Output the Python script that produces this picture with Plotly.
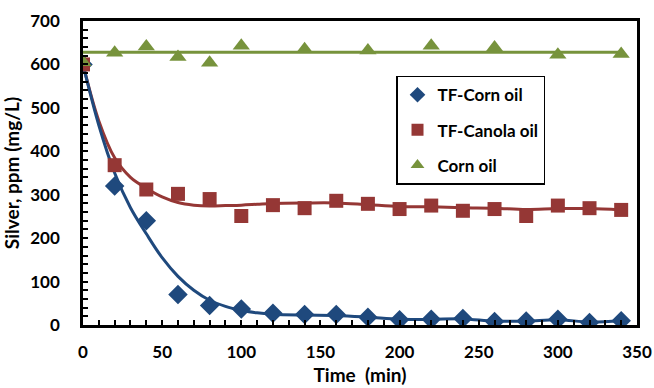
import plotly.graph_objects as go

# Measured data
time = [0, 20, 40, 60, 80, 100, 120, 140, 160, 180, 200, 220, 240, 260, 280, 300, 320, 340]
tf_corn = [600, 320, 240, 70, 45, 37, 27, 24, 24, 18, 12, 13, 15, 8, 9, 13, 6, 10]
tf_canola = [600, 368, 312, 302, 290, 251, 276, 269, 286, 279, 267, 275, 263, 267, 251, 275, 269, 265]

corn_t = [0, 20, 40, 60, 80, 100, 140, 180, 220, 260, 300, 340]
corn_oil = [605, 627, 641, 617, 604, 643, 635, 632, 643, 639, 622, 624]

# Trend curves
curve_t = [0, 10, 20, 30, 40, 50, 60, 70, 80, 90, 100, 110, 120, 140, 160, 180, 200, 220, 240, 260, 280, 300, 320, 340]
curve_corn = [600, 460, 350, 270, 210, 155, 112, 80, 57, 43, 34, 28, 25, 23, 22, 18, 13, 13, 14, 9, 9, 12, 7, 10]
curve_canola = [600, 470, 385, 340, 315, 295, 282, 276, 274, 275, 276, 278, 280, 281, 281, 277, 273, 272, 270, 269, 266, 268, 268, 265]
line_t = [0, 340]
line_corn_oil = [628, 628]

x_ticks = [0, 50, 100, 150, 200, 250, 300, 350]
y_ticks = [0, 100, 200, 300, 400, 500, 600, 700]

BLUE = "#1F497D"
RED = "#953735"
GREEN = "#77933C"

fig = go.Figure()
fig.add_trace(go.Scatter(x=line_t, y=line_corn_oil, mode="lines",
                         line=dict(color=GREEN, width=3), showlegend=False, hoverinfo="skip"))
fig.add_trace(go.Scatter(x=curve_t, y=curve_canola, mode="lines", line_shape="spline",
                         line=dict(color=RED, width=3), showlegend=False, hoverinfo="skip"))
fig.add_trace(go.Scatter(x=curve_t, y=curve_corn, mode="lines", line_shape="spline",
                         line=dict(color=BLUE, width=3), showlegend=False, hoverinfo="skip"))

fig.add_trace(go.Scatter(x=time, y=tf_corn, mode="markers", name="TF-Corn oil",
                         legendgroup="a",
                         marker=dict(symbol="diamond", size=15, color=BLUE)))
fig.add_trace(go.Scatter(x=time, y=tf_canola, mode="markers", name="TF-Canola oil",
                         legendgroup="b",
                         marker=dict(symbol="square", size=14, color=RED)))
fig.add_trace(go.Scatter(x=corn_t, y=corn_oil, mode="markers", name="Corn oil",
                         legendgroup="c",
                         marker=dict(symbol="triangle-up", size=15, color=GREEN)))

FONT = "Lato"
fig.update_layout(
    width=654, height=388,
    margin=dict(l=83, r=17, t=21, b=63),
    plot_bgcolor="white", paper_bgcolor="white",
    font=dict(family=FONT, size=15, color="black"),
    legend=dict(x=0.565, y=0.82, xanchor="left", yanchor="top",
                bgcolor="white", bordercolor="black", borderwidth=1.5,
                font=dict(family=FONT, size=17, color="black", weight="bold"),
                tracegroupgap=10, itemsizing="constant", itemwidth=30),
    xaxis=dict(range=[0, 350], tickvals=x_ticks, ticktext=[str(v) for v in x_ticks],
               automargin=False,
               showgrid=False, zeroline=False, showline=True, linecolor="black", linewidth=2.5,
               mirror=True, ticks="inside", ticklen=5, tickwidth=2, tickcolor="black",
               minor=dict(ticks="inside", dtick=10, ticklen=5, tickwidth=2, tickcolor="black"),
               tickfont=dict(family=FONT, size=17, weight="bold"), ticklabelstandoff=10,
               title=dict(text="Time\u00a0\u00a0(min)", font=dict(family=FONT, size=19, weight="bold"), standoff=8)),
    yaxis=dict(range=[0, 700], tickvals=y_ticks, ticktext=[str(v) for v in y_ticks],
               automargin=False,
               showgrid=False, zeroline=False, showline=True, linecolor="black", linewidth=2.5,
               mirror=True, ticks="inside", ticklen=5, tickwidth=2, tickcolor="black",
               minor=dict(ticks="inside", dtick=20, ticklen=5, tickwidth=2, tickcolor="black"),
               tickfont=dict(family=FONT, size=17, weight="bold"), ticklabelstandoff=17,
               title=dict(text="Silver, ppm (mg/L)", font=dict(family=FONT, size=19, weight="bold"), standoff=6)),
)

fig.write_html("out.html", config={"displayModeBar": False},
               post_script="document.body.style.margin='0';")
